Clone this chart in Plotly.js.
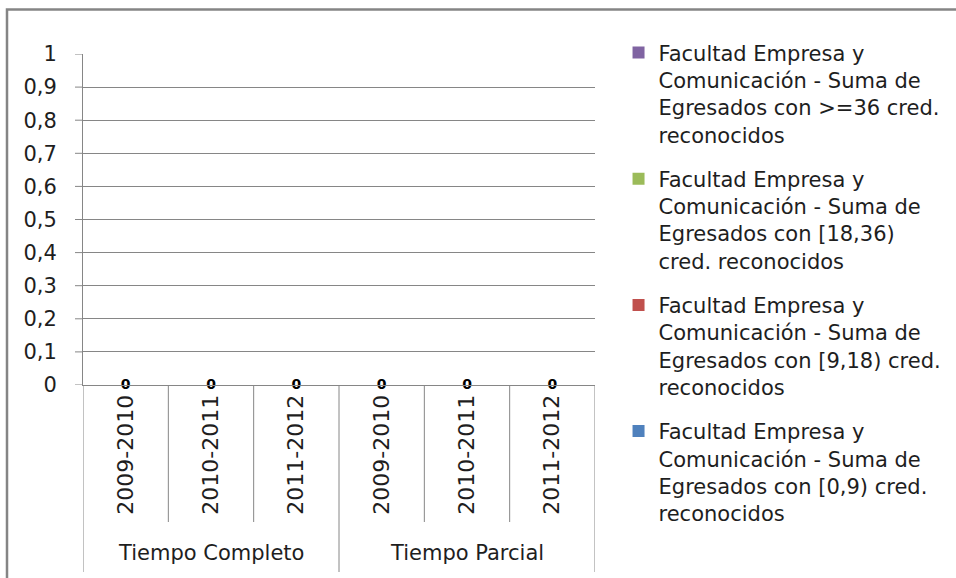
<!DOCTYPE html>
<html>
<head>
<meta charset="utf-8">
<script src="https://cdn.plot.ly/plotly-3.0.1.min.js"></script>
<style>
html,body{margin:0;padding:0;background:#fff;}
#chart{width:956px;height:578px;}
</style>
</head>
<body>
<div id="chart"></div>
<script>
// ---- data ----
const groups = ['Tiempo Completo', 'Tiempo Parcial'];
const years = ['2009-2010', '2010-2011', '2011-2012'];
const seriesNames = [
  'Facultad Empresa y<br>Comunicación - Suma de<br>Egresados con [0,9) cred.<br>reconocidos',
  'Facultad Empresa y<br>Comunicación - Suma de<br>Egresados con [9,18) cred.<br>reconocidos',
  'Facultad Empresa y<br>Comunicación - Suma de<br>Egresados con [18,36)<br>cred. reconocidos',
  'Facultad Empresa y<br>Comunicación - Suma de<br>Egresados con >=36 cred.<br>reconocidos'
];
const seriesColors = ['#4F81BD', '#C0504D', '#9BBB59', '#8064A2'];
const values0to9   = [0, 0, 0, 0, 0, 0];
const values9to18  = [0, 0, 0, 0, 0, 0];
const values18to36 = [0, 0, 0, 0, 0, 0];
const values36plus = [0, 0, 0, 0, 0, 0];
const totalLabels  = [0, 0, 0, 0, 0, 0];
const yTickVals = [0, 0.1, 0.2, 0.3, 0.4, 0.5, 0.6, 0.7, 0.8, 0.9, 1];

// ---- build ----
const keys = [];
const tickText = [];
groups.forEach(g => years.forEach(y => { keys.push(g + ' | ' + y); tickText.push(y); }));
const allValues = [values0to9, values9to18, values18to36, values36plus];

const FONT = 'DejaVu Sans';
const TXT = '#1e1e1e';
const GRID = '#868686';

const traces = allValues.map((vals, i) => ({
  type: 'bar',
  x: keys,
  y: vals,
  name: seriesNames[i],
  marker: {color: seriesColors[i]},
  legendgroup: 'g' + i,
  legendrank: allValues.length - i,
  hoverinfo: 'skip'
}));
traces.push({
  type: 'scatter',
  mode: 'text',
  x: keys,
  y: totalLabels,
  text: totalLabels.map(v => '<b>' + v + '</b>'),
  textposition: 'middle center',
  textfont: {family: FONT, size: 14, color: '#000'},
  showlegend: false,
  cliponaxis: false,
  hoverinfo: 'skip'
});

// plot area geometry (paper units)
const plotTop = 54, plotBottom = 385, plotH = plotBottom - plotTop;
const pxToPaperY = px => (plotBottom - px) / plotH;
const plotLeft = 83, plotW = 512;
const pxToPaperX = px => (px - plotLeft) / plotW;

const shapes = [];
// separators between categories (short) and groups (long)
const n = keys.length;
const perGroup = years.length;
for (let k = 0; k <= n; k++) {
  const isGroupEdge = (k % perGroup === 0);
  shapes.push({
    type: 'line', xref: 'x', yref: 'paper',
    x0: k - 0.5, x1: k - 0.5,
    y0: 0, y1: pxToPaperY(isGroupEdge ? 572 : 522),
    line: {color: GRID, width: 1}
  });
}
// short visible y tick marks (axis ticks kept transparent to push labels out)
yTickVals.forEach(v => shapes.push({
  type: 'line', xref: 'paper', yref: 'y',
  x0: pxToPaperX(75), x1: 0, y0: v, y1: v,
  line: {color: GRID, width: 1}
}));
// outer chart border
shapes.push({
  type: 'rect', xref: 'paper', yref: 'paper',
  x0: pxToPaperX(7), x1: pxToPaperX(1000),
  y0: pxToPaperY(620), y1: pxToPaperY(9.5),
  line: {color: '#858585', width: 2.5},
  fillcolor: 'rgba(0,0,0,0)'
});

const annotations = groups.map((g, gi) => ({
  xref: 'x', yref: 'paper',
  x: gi * perGroup + (perGroup - 1) / 2,
  y: pxToPaperY(553),
  text: g, showarrow: false,
  xanchor: 'center', yanchor: 'middle',
  font: {family: FONT, size: 21, color: TXT}
}));

const layout = {
  width: 956, height: 578,
  margin: {l: 83, r: 361, t: 54, b: 193},
  paper_bgcolor: '#fff', plot_bgcolor: '#fff',
  separators: ',.',
  barmode: 'stack',
  font: {family: FONT, size: 21, color: TXT},
  showlegend: true,
  legend: {
    xref: 'container', yref: 'container',
    x: 0.647, y: 0.944,
    xanchor: 'left', yanchor: 'top',
    traceorder: 'grouped',
    tracegroupgap: 14,
    valign: 'top',
    maxheight: 1,
    font: {family: FONT, size: 21, color: TXT},
    bgcolor: 'rgba(0,0,0,0)'
  },
  xaxis: {
    type: 'category',
    range: [-0.5, n - 0.5],
    tickvals: keys, ticktext: tickText,
    tickangle: -90,
    ticks: '',
    showline: true, linecolor: GRID, linewidth: 1,
    showgrid: false, zeroline: false,
    tickfont: {family: FONT, size: 22, color: TXT},
    fixedrange: true
  },
  yaxis: {
    range: [0, 1],
    tickvals: yTickVals,
    ticks: 'outside', ticklen: 21, tickcolor: 'rgba(0,0,0,0)', tickwidth: 1,
    showline: true, linecolor: GRID, linewidth: 1,
    showgrid: true, gridcolor: GRID, gridwidth: 1,
    zeroline: false,
    tickfont: {family: FONT, size: 21, color: TXT},
    fixedrange: true
  },
  shapes: shapes,
  annotations: annotations
};

Plotly.newPlot('chart', traces, layout, {staticPlot: true, displayModeBar: false});
</script>
</body>
</html>
